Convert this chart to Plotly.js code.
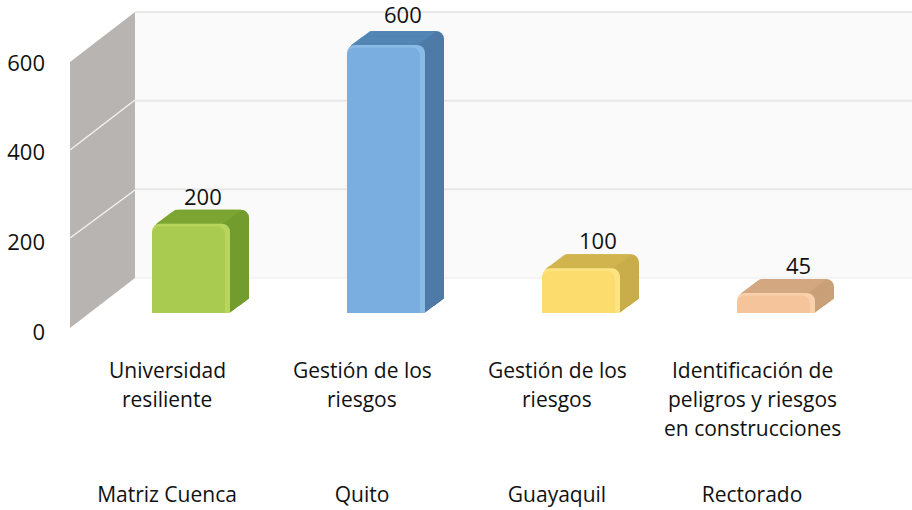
<!DOCTYPE html>
<html><head><meta charset="utf-8">
<script src="https://cdn.plot.ly/plotly-3.0.0.min.js"></script>
<style>html,body{margin:0;padding:0;background:#fff}</style></head>
<body><div id="chart" style="width:912px;height:510px"></div>
<script>
const topics = [["Universidad","resiliente"],["Gestión de los","riesgos"],["Gestión de los","riesgos"],["Identificación de","peligros y riesgos","en construcciones"]];
const sites = ["Matriz Cuenca","Quito","Guayaquil","Rectorado"];
const values = [200,600,100,45];
const yTicks = [0,200,400,600];
const mainColors = ["#a9cb4f","#7aaee0","#fcdc6c","#f5c49b"];
const lightColors = ["#b8d55e","#8abae6","#fde382","#f9d0ac"];
const sideColors = ["#739c2e","#4d7aa6","#c9ad4a","#c9a078"];
const topColors = ["#7fa833","#5689b9","#d2b651","#d5aa84"];
const labelShiftX = [36,41,41,46];
const labelShiftY = [28,31,28,28];

const FONT = "'Open Sans', sans-serif";
const PW = 862, PH = 480, L = 50;
const idx = values.map((_, i) => i);
const pxX = 195, pxV = 0.4467;
const px = x => (x - L) / PW, py = y => 1 - y / PH;
const BW = 78 / pxX, X0 = -15 / pxX, CAP = 36;

const traces = [];
const bar = (y, base, offset, width, color, radius) => ({
  type: "bar", x: idx, y, base, offset, width,
  marker: {color, line: {width: 0}, cornerradius: radius},
  hoverinfo: "skip", showlegend: false, xaxis: "x", yaxis: "y"
});
// one solid body with a square foot and a rounded cap
const block = (vals, lift, offset, width, color, radius) => {
  traces.push(bar(vals.map(v => v - CAP / 2), vals.map(() => lift), offset, width, color, 0));
  traces.push(bar(vals.map(() => CAP), vals.map(v => v - CAP + lift), offset, width, color, radius));
};
const DEPTH = 19;
for (let k = DEPTH; k >= 1; k--) {
  const lift = k * 0.737 / pxV, o = X0 + k / pxX;
  block(values, lift, o, BW, sideColors, 9);
  traces.push(bar(values.map(() => 12), values.map(v => v - 12 + lift), o + 3 / pxX, BW - 10 / pxX, topColors, 2));
}
block(values, 0, X0, BW, lightColors, 9);
block(values.map(v => v - 6), 0, X0, BW - 5 / pxX, mainColors, 8);
// axis carrying the value tick labels
traces.push({type: "scatter", mode: "markers", x: idx, y: values, xaxis: "x", yaxis: "y2",
  marker: {opacity: 0}, hoverinfo: "skip", showlegend: false});

const wall = [[70,62],[135,12],[135,278],[70,328]];
const wallPath = "M" + wall.map(p => px(p[0]) + "," + py(p[1])).join("L") + "Z";
const shapes = [
  {type: "rect", xref: "paper", yref: "y3", x0: px(135), x1: 1, y0: 0, y1: 600,
    fillcolor: "#fafafa", line: {width: 0}, layer: "below"},
  {type: "path", xref: "paper", yref: "paper", path: wallPath, fillcolor: "#b7b4b2", line: {width: 0}, layer: "below"}
];
yTicks.forEach(t => {
  shapes.push({type: "line", xref: "paper", yref: "y3", x0: px(135), x1: 1, y0: t, y1: t,
    line: {color: t === 0 ? "#ececec" : "#e8e8e8", width: t === 0 ? 1 : 2}, layer: "below"});
});
[[238,190],[150,100]].forEach(g => shapes.push({type: "line", xref: "paper", yref: "paper",
  x0: px(70), x1: px(135), y0: py(g[0]), y1: py(g[1]), line: {color: "#f2f2f2", width: 1.5}, layer: "below"}));

const annotations = [];
const lineY = [370, 399, 428];
topics.forEach((lines, i) => lines.forEach((t, j) => annotations.push({
  text: t, x: i, xref: "x", y: py(lineY[j]), yref: "paper", xanchor: "center", yanchor: "middle",
  showarrow: false, font: {family: FONT, size: 21, color: "#111"}
})));
values.forEach((v, i) => annotations.push({
  text: String(v), x: i, xref: "x", y: v, yref: "y", xanchor: "center", yanchor: "middle",
  xshift: labelShiftX[i], yshift: labelShiftY[i], showarrow: false, font: {family: FONT, size: 22, color: "#111"}
}));

const layout = {
  width: 912, height: 510, margin: {l: L, r: 0, t: 0, b: 30},
  paper_bgcolor: "#fff", plot_bgcolor: "rgba(0,0,0,0)",
  barmode: "overlay", showlegend: false, font: {family: FONT, color: "#111"},
  shapes, annotations,
  xaxis: {range: [(L - 167) / pxX, (912 - 167) / pxX], tickmode: "array", tickvals: idx, ticktext: sites,
    showgrid: false, zeroline: false, showline: false, ticks: "", tickfont: {family: FONT, size: 21, color: "#111"}},
  yaxis: {range: [(313 - 480) / pxV, 313 / pxV], showgrid: false, zeroline: false, showticklabels: false, ticks: "", showline: false},
  yaxis2: {range: [(332 - 480) / 0.4483, 332 / 0.4483], overlaying: "y", side: "left", anchor: "x", tickmode: "array", tickvals: yTicks,
    showgrid: false, zeroline: false, showline: false, ticks: "", ticklabelstandoff: 4, tickfont: {family: FONT, size: 22, color: "#111"}},
  yaxis3: {range: [(278 - 480) / 0.4433, 278 / 0.4433], overlaying: "y", visible: false}
};
Plotly.newPlot("chart", traces, layout, {displayModeBar: false, staticPlot: true});
</script></body></html>
